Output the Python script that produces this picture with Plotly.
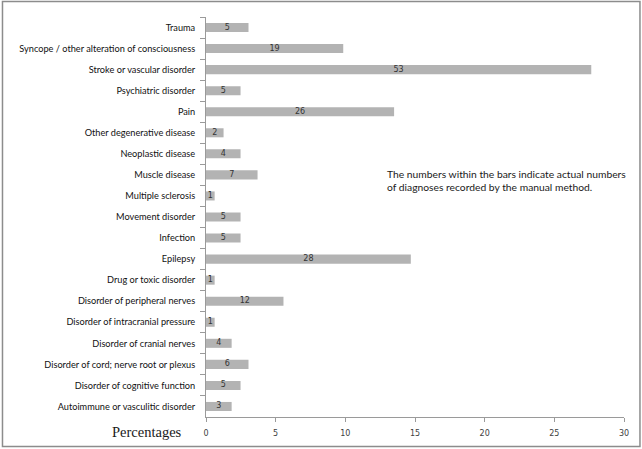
import plotly.graph_objects as go

categories = [
    "Trauma",
    "Syncope / other alteration of consciousness",
    "Stroke or vascular disorder",
    "Psychiatric disorder",
    "Pain",
    "Other degenerative disease",
    "Neoplastic disease",
    "Muscle disease",
    "Multiple sclerosis",
    "Movement disorder",
    "Infection",
    "Epilepsy",
    "Drug or toxic disorder",
    "Disorder of peripheral nerves",
    "Disorder of intracranial pressure",
    "Disorder of cranial nerves",
    "Disorder of cord; nerve root or plexus",
    "Disorder of cognitive function",
    "Autoimmune or vasculitic disorder",
]
percentages = [3.05, 9.85, 27.65, 2.48, 13.5, 1.26, 2.48, 3.7, 0.62, 2.48,
               2.48, 14.7, 0.62, 5.56, 0.62, 1.84, 3.05, 2.48, 1.84]
counts = [5, 19, 53, 5, 26, 2, 4, 7, 1, 5, 5, 28, 1, 12, 1, 4, 6, 5, 3]

W, H = 642, 449
L, R, T, B = 205.5, 17.5, 17, 32
pw, ph = W - L - R, H - T - B

def px(x):
    return (x - L) / pw

def py(y):
    return (H - B - y) / ph

fig = go.Figure()
fig.add_trace(go.Bar(
    y=categories, x=percentages, orientation="h",
    marker=dict(color="#b3b3b3", line=dict(width=0)),
    hoverinfo="skip",
))
fig.add_trace(go.Scatter(
    y=categories, x=[p / 2 for p in percentages], mode="text",
    text=[str(c) for c in counts],
    textfont=dict(family="DejaVu Sans", size=8, color="#333333"),
    hoverinfo="skip",
))

fig.update_layout(
    width=W, height=H,
    margin=dict(l=L, r=R, t=T, b=B),
    paper_bgcolor="white", plot_bgcolor="white",
    showlegend=False,
    bargap=0.57,
    xaxis=dict(
        range=[0, 30], dtick=5, tick0=0,
        showgrid=False, zeroline=False,
        showline=True, linecolor="#9a9a9a", linewidth=1,
        ticks="outside", ticklen=4, tickcolor="#9a9a9a",
        ticklabelstandoff=4,
        tickfont=dict(family="DejaVu Sans", size=8, color="#404040"),
        fixedrange=True,
    ),
    yaxis=dict(
        range=[len(categories) - 0.5, -0.5],
        showgrid=False, zeroline=False,
        showline=True, linecolor="#9a9a9a", linewidth=1,
        ticks="outside", ticklen=5, tickcolor="#9a9a9a",
        tickson="boundaries",
        ticklabelstandoff=8,
        tickfont=dict(family="Lato", size=9.2, color="#111111"),
        fixedrange=True,
    ),
    shapes=[dict(
        type="rect", xref="paper", yref="paper",
        x0=px(1.5), x1=px(640.5), y0=py(446.5), y1=py(1.5),
        line=dict(color="#8c8c8c", width=1.5), fillcolor="rgba(0,0,0,0)",
        layer="below",
    )],
    annotations=[
        dict(
            xref="paper", yref="paper", x=px(385), y=py(180),
            xanchor="left", yanchor="middle", align="left", showarrow=False,
            text="The numbers within the bars indicate actual numbers<br>of diagnoses recorded by the manual method.",
            font=dict(family="Lato", size=10.3, color="#1a1a1a"),
        ),
        dict(
            xref="paper", yref="paper", x=px(146.5), y=py(432),
            xanchor="center", yanchor="middle", showarrow=False,
            text="Percentages",
            font=dict(family="Liberation Serif", size=14.5, color="#1a1a1a"),
        ),
    ],
)

fig.write_html(
    "out.html",
    config={"displayModeBar": False},
    post_script="document.body.style.margin='0';document.body.style.padding='0';document.body.style.overflow='hidden';",
)
